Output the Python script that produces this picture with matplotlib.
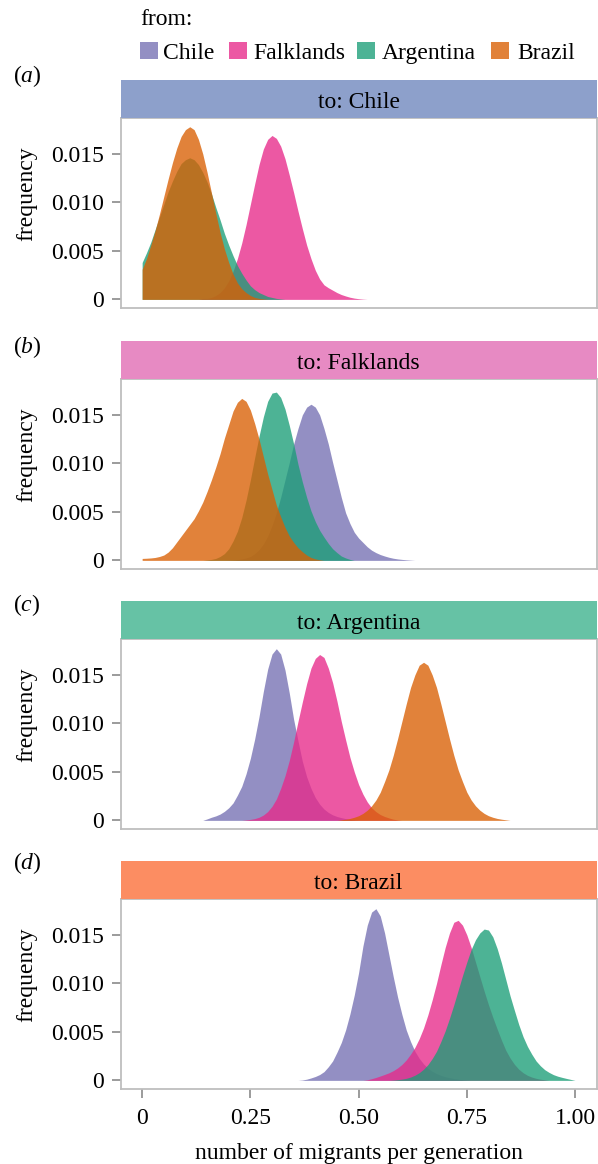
import matplotlib
matplotlib.use('Agg')
import matplotlib.pyplot as plt
from matplotlib.patches import Rectangle
import numpy as np

W, H = 598, 1164

plt.rcParams['font.family'] = ['Liberation Serif', 'DejaVu Serif']
plt.rcParams['font.size'] = 17
plt.rcParams['mathtext.fontset'] = 'custom'
plt.rcParams['mathtext.rm'] = 'Liberation Serif'
plt.rcParams['mathtext.it'] = 'Liberation Serif:italic'

sources = ['Chile', 'Falklands', 'Argentina', 'Brazil']
fill_colors = ['#7570B3', '#E7298A', '#1B9E77', '#D95F02']
strip_colors = ['#8DA0CB', '#E78AC3', '#66C2A5', '#FC8D62']
panel_letters = ['a', 'b', 'c', 'd']

y_ticks = [0, 0.005, 0.010, 0.015]
y_tick_labels = ['0', '0.005', '0.010', '0.015']
x_ticks = [0, 0.25, 0.50, 0.75, 1.00]
x_tick_labels = ['0', '0.25', '0.50', '0.75', '1.00']

STEP = 0.01
# frequency (x 1e-3) every 0.01, from the start value
to_chile = {
    'Falklands': (0.13, [0.0, 0.1, 0.1, 0.2, 0.4, 0.7, 1.2, 1.9, 2.9, 4.2, 5.8, 7.7, 9.8, 11.9,
                         13.9, 15.5, 16.5, 16.9, 16.6, 15.8, 14.5, 12.8, 11.0, 9.1, 7.3, 5.6,
                         4.2, 3.0, 2.1, 1.5, 1.2, 0.95, 0.7, 0.5, 0.35, 0.22, 0.13, 0.07, 0.03,
                         0.0]),
    'Argentina': (0.00, [3.8, 4.8, 5.9, 7.2, 8.5, 9.8, 11.1, 12.2, 13.2, 14.0, 14.4, 14.6, 14.4,
                         13.9, 13.1, 12.1, 10.9, 9.5, 8.2, 6.8, 5.6, 4.5, 3.5, 2.7, 2.0, 1.4,
                         1.0, 0.7, 0.5, 0.3, 0.2, 0.1, 0.05, 0.0]),
    'Brazil': (0.00, [3.1, 4.2, 5.6, 7.1, 8.8, 10.6, 12.4, 14.1, 15.6, 16.8, 17.5, 17.8, 17.5,
                      16.5, 15.0, 13.1, 11.0, 8.9, 6.9, 5.2, 3.8, 2.6, 1.7, 1.1, 0.7, 0.4, 0.2,
                      0.1, 0.05, 0.0]),
}
to_falklands = {
    'Chile': (0.19, [0.0, 0.02, 0.04, 0.08, 0.15, 0.25, 0.4, 0.7, 1.1, 1.7, 2.5, 3.6, 4.9, 6.5,
                     8.3, 10.1, 12.0, 13.6, 15.0, 15.8, 16.1, 15.8, 15.0, 13.6, 12.0, 10.1, 8.3,
                     6.5, 4.9, 3.8, 2.9, 2.3, 1.85, 1.4, 1.05, 0.8, 0.6, 0.45, 0.32, 0.22, 0.15,
                     0.1, 0.06, 0.03, 0.0]),
    'Argentina': (0.14, [0.0, 0.05, 0.1, 0.2, 0.4, 0.7, 1.2, 2.0, 3.0, 4.4, 6.2, 8.3, 10.6, 12.8,
                         14.8, 16.4, 17.25, 17.35, 16.8, 15.6, 13.9, 12.0, 9.9, 8.1, 6.5, 5.1,
                         4.0, 3.1, 2.4, 1.75, 1.2, 0.8, 0.45, 0.25, 0.1, 0.0]),
    'Brazil': (0.00, [0.2, 0.22, 0.25, 0.3, 0.4, 0.55, 0.85, 1.3, 1.9, 2.5, 3.1, 3.7, 4.3, 5.1,
                      6.0, 7.1, 8.3, 9.6, 11.0, 12.6, 14.0, 15.4, 16.3, 16.7, 16.4, 15.5, 14.1,
                      12.5, 10.7, 8.9, 7.3, 5.7, 4.5, 3.4, 2.5, 1.85, 1.3, 0.9, 0.55, 0.3, 0.15,
                      0.06, 0.0]),
}
to_argentina = {
    'Chile': (0.14, [0.0, 0.15, 0.32, 0.46, 0.65, 0.93, 1.3, 1.8, 2.6, 3.5, 4.8, 6.4, 8.4, 10.7,
                     13.3, 15.6, 17.15, 17.7, 17.15, 15.5, 13.1, 10.4, 8.2, 6.1, 4.5, 3.3, 2.35,
                     1.67, 1.17, 0.82, 0.57, 0.4, 0.28, 0.18, 0.1, 0.05, 0.0]),
    'Falklands': (0.23, [0.0, 0.05, 0.1, 0.18, 0.32, 0.55, 0.91, 1.45, 2.2, 3.3, 4.6, 6.2, 8.1,
                         10.2, 12.2, 14.1, 15.7, 16.7, 17.1, 16.8, 15.7, 14.2, 12.3, 10.2, 8.3,
                         6.5, 5.0, 3.7, 2.7, 1.9, 1.3, 0.9, 0.6, 0.4, 0.25, 0.12, 0.05, 0.0]),
    'Brazil': (0.45, [0.0, 0.06, 0.12, 0.2, 0.32, 0.48, 0.72, 1.05, 1.5, 2.1, 2.9, 4.0, 5.2, 6.7,
                      8.4, 10.2, 12.0, 13.7, 15.0, 16.0, 16.3, 16.0, 15.0, 13.7, 12.0, 10.2, 8.4,
                      6.7, 5.2, 4.0, 2.9, 2.1, 1.5, 1.05, 0.72, 0.48, 0.32, 0.2, 0.12, 0.06,
                      0.0]),
}
to_brazil = {
    'Chile': (0.36, [0.0, 0.04, 0.12, 0.25, 0.4, 0.6, 0.9, 1.4, 2.0, 2.9, 3.9, 5.2, 6.85, 8.8,
                     11.1, 13.85, 16.0, 17.35, 17.7, 16.95, 15.2, 12.95, 10.7, 8.6, 6.8, 5.2,
                     4.0, 3.0, 2.27, 1.7, 1.26, 0.94, 0.7, 0.52, 0.38, 0.27, 0.19, 0.12, 0.07,
                     0.03, 0.0]),
    'Falklands': (0.51, [0.0, 0.06, 0.17, 0.3, 0.45, 0.61, 0.78, 1.0, 1.28, 1.64, 2.1, 2.7, 3.4,
                         4.3, 5.4, 6.75, 8.3, 10.0, 11.9, 13.7, 15.2, 16.3, 16.5, 16.0, 15.0,
                         13.7, 12.2, 10.7, 9.2, 7.8, 6.5, 5.3, 4.15, 3.1, 2.3, 1.65, 1.15, 0.79,
                         0.52, 0.34, 0.21, 0.12, 0.06, 0.0]),
    'Argentina': (0.57, [0.0, 0.03, 0.07, 0.13, 0.21, 0.34, 0.53, 0.79, 1.15, 1.62, 2.25, 3.0,
                         4.0, 5.1, 6.4, 7.8, 9.3, 10.8, 12.2, 13.5, 14.5, 15.2, 15.6, 15.5, 14.8,
                         13.6, 12.1, 10.4, 8.7, 7.2, 5.75, 4.5, 3.5, 2.7, 2.0, 1.5, 1.1, 0.82,
                         0.59, 0.43, 0.31, 0.2, 0.1, 0.0]),
}
panels = [('Chile', to_chile), ('Falklands', to_falklands),
          ('Argentina', to_argentina), ('Brazil', to_brazil)]

# layout in pixels of the reference
AX_LEFT, AX_RIGHT = 120.5, 596.7
PLOT_TOPS = [118, 379, 639, 899]
PLOT_H = 190
STRIP_H = 38
LETTER_BASE = [82.5, 353, 611, 869]
SPINE = '#BEBEBE'
TICK = '#8A8A8A'


def px_box(left, top, width, height):
    return [left / W, 1 - (top + height) / H, width / W, height / H]


fig = plt.figure(figsize=(W / 100, H / 100), dpi=100)

for i, (dest, curves) in enumerate(panels):
    top = PLOT_TOPS[i]
    ax = fig.add_axes(px_box(AX_LEFT, top, AX_RIGHT - AX_LEFT, PLOT_H))
    for src, col in zip(sources, fill_colors):
        if src not in curves:
            continue
        start, vals = curves[src]
        y = np.array(vals) / 1000.0
        x = start + STEP * np.arange(len(y))
        ax.fill_between(x, 0, y, color=col, alpha=0.78, linewidth=0)
    ax.set_xlim(-0.05, 1.05)
    ax.set_ylim(-0.00089, 0.0187)
    ax.set_yticks(y_ticks)
    ax.set_yticklabels(y_tick_labels)
    for s in ax.spines.values():
        s.set_color(SPINE)
        s.set_linewidth(1.3)
    ax.tick_params(axis='y', direction='out', length=6.5, width=1.2, color=TICK, pad=5.5,
                   labelsize=17)
    if i == 3:
        ax.set_xticks(x_ticks)
        ax.set_xticklabels(x_tick_labels)
        ax.tick_params(axis='x', direction='out', length=6.5, width=1.2, color=TICK, pad=7,
                       labelsize=17)
    else:
        ax.tick_params(axis='x', bottom=False, labelbottom=False)

    # facet strip
    sax = fig.add_axes(px_box(AX_LEFT, top - STRIP_H, AX_RIGHT - AX_LEFT, STRIP_H))
    sax.set_facecolor(strip_colors[i])
    sax.set_xticks([])
    sax.set_yticks([])
    for s in sax.spines.values():
        s.set_visible(False)
    fig.text((AX_LEFT + AX_RIGHT) / 2 / W, 1 - (top - STRIP_H + 28) / H, 'to: ' + dest,
             ha='center', va='baseline', fontsize=17)

    fig.text(13 / W, 1 - LETTER_BASE[i] / H, '($\\mathit{%s}$)' % panel_letters[i],
             ha='left', va='baseline', fontsize=17)
    fig.text(32 / W, 1 - (top - STRIP_H + (STRIP_H + PLOT_H) / 2) / H, 'frequency',
             rotation=90, rotation_mode='anchor', ha='center', va='baseline', fontsize=17)

fig.text((AX_LEFT + AX_RIGHT) / 2 / W, 1 - 1159 / H, 'number of migrants per generation',
         ha='center', va='baseline', fontsize=17)

# legend
fig.text(140 / W, 1 - 25 / H, 'from:', ha='left', va='baseline', fontsize=17)
swatch_x = [140, 228.5, 356.5, 491]
label_x = [163, 253, 382, 517]
for sx, lx, src, col in zip(swatch_x, label_x, sources, fill_colors):
    fig.add_artist(Rectangle((sx / W, 1 - 59 / H), 18 / W, 17 / H, transform=fig.transFigure,
                             facecolor=col, alpha=0.78, linewidth=0))
    fig.text(lx / W, 1 - 59 / H, src, ha='left', va='baseline', fontsize=17)

fig.savefig('out.png', dpi=100)
